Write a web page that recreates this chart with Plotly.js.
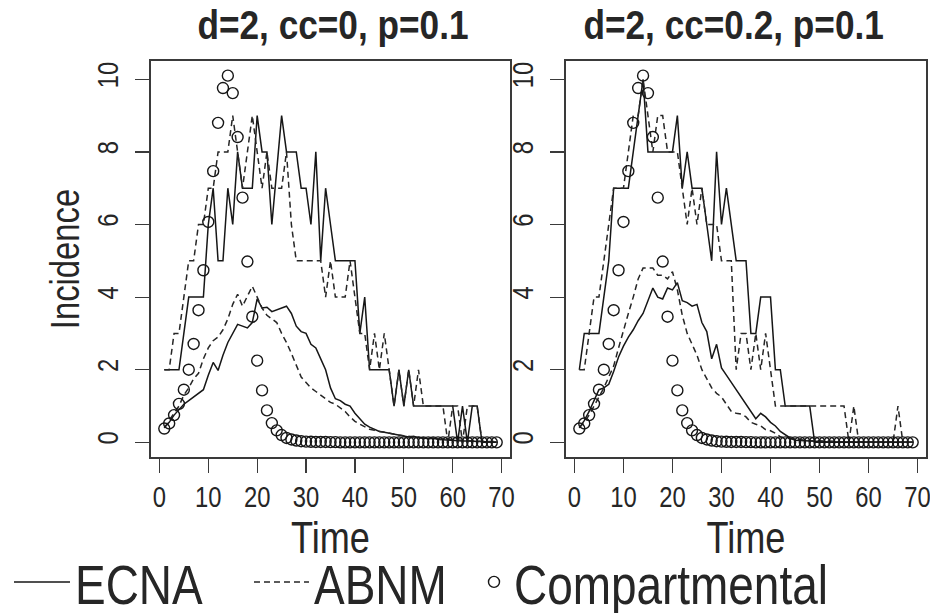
<!DOCTYPE html>
<html><head><meta charset="utf-8">
<script src="https://cdn.plot.ly/plotly-3.0.1.min.js"></script>
<style>html,body{margin:0;padding:0;background:#fff}#chart{width:930px;height:613px}</style>
</head><body><div id="chart"></div>
<script>
// ---- data ----
const time = [1,2,3,4,5,6,7,8,9,10,11,12,13,14,15,16,17,18,19,20,21,22,23,24,25,26,27,28,29,30,31,32,33,34,35,36,37,38,39,40,41,42,43,44,45,46,47,48,49,50,51,52,53,54,55,56,57,58,59,60,61,62,63,64,65,66,67,68,69];

const panelTitles = ["d=2, cc=0, p=0.1", "d=2, cc=0.2, p=0.1"];
const seriesNames = ["ECNA", "ABNM", "Compartmental"];
const xTickVals = [0,10,20,30,40,50,60,70];
const yTickVals = [0,2,4,6,8,10];

const compartmental = [0.38,0.52,0.75,1.06,1.45,2.0,2.71,3.64,4.74,6.07,
  7.47,8.8,9.76,10.1,9.62,8.41,6.74,4.98,3.46,2.25,
  1.43,0.88,0.53,0.33,0.2,0.12,0.08,0.05,0.03,0.02,
  0.015,0.01,0.01,0.01,0.005,0.005,0,0,0,0,
  0,0,0,0,0,0,0,0,0,0,
  0,0,0,0,0,0,0,0,0,0,
  0,0,0,0,0,0,0,0,0];

// left panel (cc=0)
const ecnaUpperL = [2,2,2,2,3,4,4,4,4,6,
  7,5,5,7,6,8,7,7,7,9,
  8,8,6,7.5,9,8,8,8,7,7,
  6,8,5,7,6,5,5,5,5,5,
  3,4,2,2,2,2,2,1,2,1,
  2,1,1,1,1,1,1,1,1,1,
  0,1,0,1,1,0,0,0,0];
const ecnaMeanL = [0.4,0.55,0.75,0.9,1.05,1.15,1.25,1.35,1.45,1.85,
  2.2,1.98,2.4,2.75,3.0,3.25,3.2,3.15,3.3,3.95,
  3.7,3.72,3.6,3.65,3.7,3.75,3.55,3.2,3.05,3.0,
  2.7,2.6,2.3,2.0,1.5,1.2,1.15,1.05,1.0,0.8,
  0.65,0.5,0.42,0.35,0.3,0.28,0.25,0.22,0.2,0.18,
  0.15,0.17,0.13,0.12,0.1,0.12,0.08,0.07,0.06,0.05,
  0.05,0.04,0.04,0.03,0.02,0.02,0.01,0.01,0.01];
const abnmUpperL = [2,2,3,3,4,5,5,6,6,7,
  7,8,8,8,9,8,7,8,9,8,
  7,8,7,7,7,8,6,5,5,5,
  5,5,5,4,5,4,4,4,5,4,
  3,3,2,3,2,3,2,1,2,1,
  2,1,2,1,1,1,1,1,0,1,
  1,0,1,1,1,0,0,0,0];
const abnmMeanL = [0.4,0.6,0.8,1.0,1.3,1.5,1.75,1.9,2.3,2.6,
  2.8,2.9,3.1,3.4,3.8,4.08,3.75,4.05,4.3,4.0,
  3.7,3.5,3.4,3.3,3.0,2.75,2.45,2.1,1.8,1.65,
  1.5,1.4,1.3,1.2,1.1,1.05,0.95,0.85,0.7,0.58,
  0.5,0.42,0.36,0.33,0.3,0.28,0.25,0.22,0.2,0.18,
  0.16,0.15,0.13,0.12,0.11,0.1,0.09,0.08,0.07,0.06,
  0.05,0.05,0.04,0.04,0.03,0.03,0.02,0.02,0.02];

// right panel (cc=0.2)
const ecnaUpperR = [2,3,3,3,3,4,5,7,7,7,
  7,8,9,10,8,8,8,8,8,8,
  9,7,8,7,7,7,6,5,8,6,
  7,6,5,5,5,3,3,4,4,4,
  2,2,1,1,1,1,1,1,0,0,
  0,0,0,0,0,0,0,0,0,0,
  0,0,0,0,0,0,0,0,0];
const ecnaMeanR = [0.4,0.6,0.85,1.15,1.45,1.5,1.6,1.95,2.35,2.65,
  2.9,3.1,3.35,3.55,3.9,4.25,4.0,3.95,4.25,4.2,
  4.4,3.9,3.85,3.75,3.8,3.3,3.05,2.3,2.7,2.05,
  1.85,1.65,1.45,1.25,1.05,0.85,0.65,0.8,0.7,0.55,
  0.45,0.3,0.2,0.12,0.06,0.05,0.04,0.03,0.02,0.02,
  0.01,0.01,0.01,0.01,0.01,0,0,0,0,0,
  0,0,0,0,0,0,0,0,0];
const abnmUpperR = [2,2,3,4,4,5,6,7,7,7,
  8,9,9,10,9,8,9,9,8,8,
  8,7,6,7,6,7,6,6,6,5,
  5,5,2,3,3,2,3,2,3,2,
  1,1,1,1,1,1,1,1,1,1,
  1,1,1,1,1,0,1,0,0,0,
  0,0,0,0,0,1,0,0,0];
const abnmMeanR = [0.4,0.55,0.75,1.0,1.25,1.5,1.8,2.1,2.6,3.1,
  3.55,4.0,4.5,4.8,4.8,4.8,4.6,4.6,4.5,4.7,
  4.2,3.5,3.0,2.7,2.4,2.0,1.75,1.5,1.35,1.25,
  1.05,0.85,0.8,0.78,0.7,0.55,0.5,0.45,0.35,0.32,
  0.25,0.15,0.12,0.1,0.08,0.07,0.06,0.05,0.05,0.04,
  0.03,0.03,0.03,0.02,0.02,0.02,0.02,0.01,0.01,0.01,
  0.01,0.01,0.01,0.01,0,0,0,0,0];

// ---- styling ----
const FONT = '"Liberation Sans", Arial, sans-serif';
const INK = '#161616';
const TXT = '#262626';
const solid = {color: INK, width: 1.5};
const dashed = {color: '#262626', width: 1.5, dash: '6px,4px'};

function lineTrace(y, xa, ya, line, name, legendId, show) {
  return {x: time, y: y, xaxis: xa, yaxis: ya, type: 'scatter', mode: 'lines',
    line: line, name: name, legend: legendId, showlegend: show, hoverinfo: 'skip'};
}
function circTrace(y, xa, ya, show) {
  return {x: time, y: y, xaxis: xa, yaxis: ya, type: 'scatter', mode: 'markers',
    marker: {symbol: 'circle-open', size: 11, color: INK, line: {width: 1.4, color: INK}},
    name: seriesNames[2], legend: 'legend3', showlegend: show, hoverinfo: 'skip'};
}

const traces = [
  lineTrace(ecnaUpperL, 'x', 'y', solid, seriesNames[0], 'legend', true),
  lineTrace(ecnaMeanL, 'x', 'y', solid, seriesNames[0], 'legend', false),
  lineTrace(abnmUpperL, 'x', 'y', dashed, seriesNames[1], 'legend2', true),
  lineTrace(abnmMeanL, 'x', 'y', dashed, seriesNames[1], 'legend2', false),
  circTrace(compartmental, 'x', 'y', true),
  lineTrace(ecnaUpperR, 'x2', 'y2', solid, seriesNames[0], 'legend', false),
  lineTrace(ecnaMeanR, 'x2', 'y2', solid, seriesNames[0], 'legend', false),
  lineTrace(abnmUpperR, 'x2', 'y2', dashed, seriesNames[1], 'legend2', false),
  lineTrace(abnmMeanR, 'x2', 'y2', dashed, seriesNames[1], 'legend2', false),
  circTrace(compartmental, 'x2', 'y2', false)
];

const W = 930, H = 613;
const xBase = {
  range: [-1.72, 71.72], tickvals: xTickVals, ticktext: xTickVals.map(String),
  showline: true, mirror: true, linecolor: '#3a3a3a', linewidth: 1.6,
  ticks: 'outside', ticklen: 14, tickwidth: 1.2, tickcolor: '#3a3a3a',
  showgrid: false, zeroline: false, fixedrange: true,
  tickfont: {family: FONT, size: 29, color: TXT},
  ticklabelstandoff: 0, ticklabeloverflow: 'allow',
  title: {text: 'Time', font: {family: FONT, size: 44, color: TXT}, standoff: 0}
};
const yBase = {
  range: [-0.404, 10.504], tickvals: yTickVals, ticktext: yTickVals.map(String),
  domain: [1 - 457/H, 1 - 61/H],
  showline: true, mirror: true, linecolor: '#3a3a3a', linewidth: 1.6,
  ticks: 'outside', ticklen: 14, tickwidth: 1.2, tickcolor: '#3a3a3a',
  showgrid: false, zeroline: false, fixedrange: true,
  tickangle: -90,
  tickfont: {family: FONT, size: 29, color: TXT},
  ticklabelstandoff: 6, ticklabeloverflow: 'allow'
};

const legendBase = {
  orientation: 'h', yanchor: 'middle', y: 1 - 582/H, xanchor: 'left',
  font: {family: FONT, size: 56, color: TXT}, bgcolor: 'rgba(0,0,0,0)', borderwidth: 0
};

const layout = {
  width: W, height: H,
  margin: {l: 0, r: 0, t: 0, b: 0, autoexpand: false},
  paper_bgcolor: '#fff', plot_bgcolor: '#fff',
  xaxis: Object.assign({}, xBase, {domain: [151/W, 510/W], anchor: 'y'}),
  xaxis2: Object.assign({}, xBase, {domain: [566/W, 926/W], anchor: 'y2'}),
  yaxis: Object.assign({}, yBase, {anchor: 'x',
    title: {text: 'Incidence', font: {family: FONT, size: 40, color: TXT}, standoff: 0}}),
  yaxis2: Object.assign({}, yBase, {anchor: 'x2'}),
  legend: Object.assign({}, legendBase, {x: 9/W, itemwidth: 56}),
  legend2: Object.assign({}, legendBase, {x: 249/W, itemwidth: 55}),
  legend3: Object.assign({}, legendBase, {x: 474/W, itemwidth: 30}),
  annotations: [
    {text: panelTitles[0], xref: 'paper', yref: 'paper', x: 333/W, y: 1 - 25/H,
     xanchor: 'center', yanchor: 'middle', showarrow: false,
     font: {family: FONT, size: 40, weight: 'bold', color: TXT}},
    {text: panelTitles[1], xref: 'paper', yref: 'paper', x: 733/W, y: 1 - 25/H,
     xanchor: 'center', yanchor: 'middle', showarrow: false,
     font: {family: FONT, size: 40, weight: 'bold', color: TXT}}
  ],
  showlegend: true
};

// the reference uses a narrow (condensed) sans face: condense the glyphs of every text
function condense(gd) {
  gd.querySelectorAll('svg text').forEach(function (t) {
    if (!t.textContent) return;
    const f = t.closest('.annotation') ? 0.88 : 0.82;
    const L = t.getComputedTextLength();
    if (L > 0) {
      t.setAttribute('textLength', (L * f).toFixed(2));
      t.setAttribute('lengthAdjust', 'spacingAndGlyphs');
    }
  });
}

Plotly.newPlot('chart', traces, layout, {staticPlot: true, displayModeBar: false}).then(condense);
</script></body></html>
